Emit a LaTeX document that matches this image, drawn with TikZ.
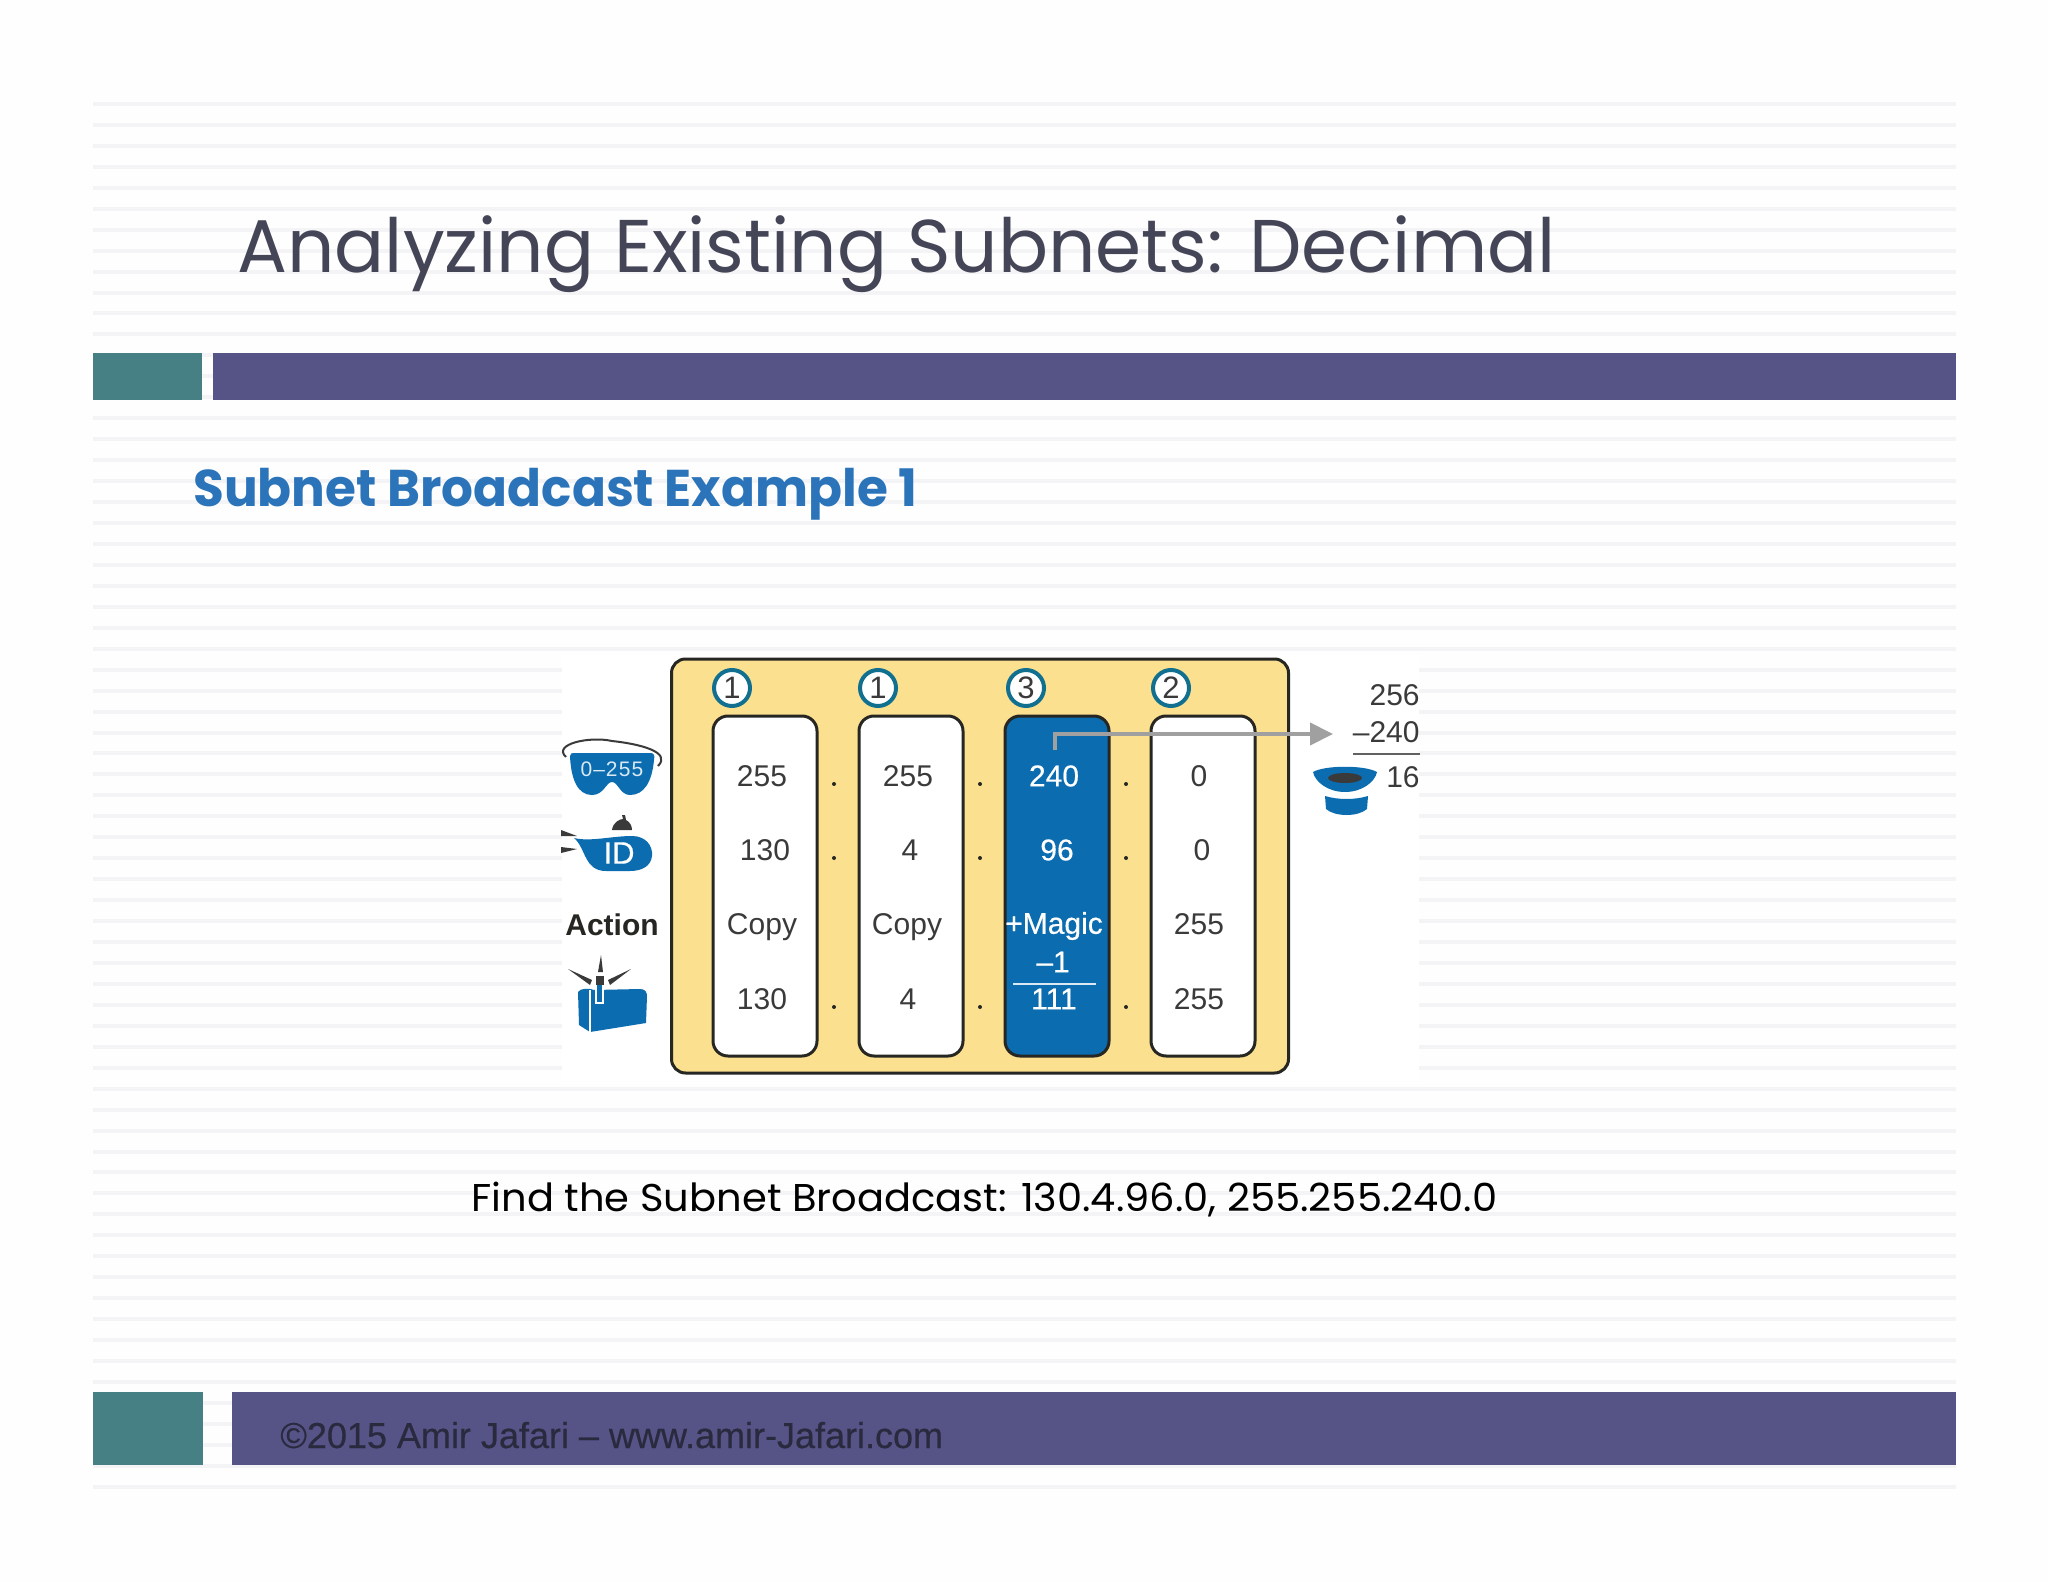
\documentclass[tikz,border=0pt]{standalone}
\usepackage{fontspec}
\usepackage{graphicx}
\usetikzlibrary{arrows.meta}
\setmainfont{Liberation Sans}
\newfontfamily\headfont{Poppins}
\newfontfamily\semifont[FakeBold=0.5]{Liberation Sans}
\definecolor{pagebg}{HTML}{FEFEFE}
\definecolor{stripe}{HTML}{F4F4F6}
\definecolor{teal}{HTML}{468085}
\definecolor{barpurple}{HTML}{565387}
\definecolor{titleink}{HTML}{454558}
\definecolor{subblue}{HTML}{2C74BA}
\definecolor{panelyellow}{HTML}{FBE08F}
\definecolor{iconblue}{HTML}{0B6CB0}
\definecolor{ink}{HTML}{3A3A3A}
\definecolor{edge}{HTML}{262622}
\definecolor{ringblue}{HTML}{11708F}
\definecolor{arrowgray}{HTML}{A0A0A0}
\definecolor{footink}{HTML}{2A2A3E}
\newcommand{\fitbox}[3]{\resizebox*{#1pt}{#2pt}{#3}}
\tikzset{
  x=0.5pt,y=-0.5pt,
  bar/.style={fill=#1,draw=none},
  panel/.style={draw=edge,fill=panelyellow,line width=1.5pt,rounded corners=7pt,minimum width=308.5pt,minimum height=207pt,inner sep=0pt},
  colbox/.style={draw=edge,fill=white,line width=1.5pt,rounded corners=7.5pt,minimum width=52pt,minimum height=170pt,inner sep=0pt},
  colblue/.style={colbox,fill=iconblue},
  cell/.style={inner sep=0pt,text=ink,font=\fontsize{15}{18}\selectfont},
  wcell/.style={inner sep=0pt,text=white,font=\semifont\fontsize{15}{18}\selectfont},
  sepdot/.style={circle,fill=edge,draw=none,minimum size=2pt,inner sep=0pt},
  ring/.style={circle,draw=ringblue,fill=white,line width=2pt,minimum size=18pt,inner sep=0pt,text=ink,font=\fontsize{15.5}{18}\selectfont},
  grayarrow/.style={draw=arrowgray,line width=2pt,-{Triangle[length=11.5pt,width=11pt]}},
  rulew/.style={draw=white!85!iconblue,line width=0.7pt},
  iconfill/.style={fill=iconblue,draw=none},
  spark/.style={draw=ink,line width=0.9pt,line cap=round},
}
\begin{document}
\begin{tikzpicture}
\useasboundingbox (0,0) rectangle (2048,1582);
\fill[pagebg] (0,0) rectangle (2048,1582);
% background stripes
\foreach \k in {0,...,66} {
  \fill[stripe] (93,{102+20.95*\k}) rectangle (1956,{106+20.95*\k});
}
% bars
\fill[bar=teal] (93,353) rectangle (202,400);
\fill[bar=barpurple] (213,353) rectangle (1956,400);
\fill[bar=teal] (93,1392) rectangle (203,1465);
\fill[bar=barpurple] (232,1392) rectangle (1956,1465);
% titles
\node[anchor=base west,inner sep=0pt,text=titleink] (title) at (237,273)
  {\fitbox{659}{38.5}{\headfont Analyzing Existing Subnets: Decimal}};
\node[anchor=base west,inner sep=0pt,text=subblue] (subtitle) at (193,507)
  {\fitbox{362}{26}{\headfont\bfseries Subnet Broadcast Example 1}};
\node[anchor=base west,inner sep=0pt,text=black] (findtext) at (471,1211)
  {\fitbox{513}{17.5}{\headfont Find the Subnet Broadcast: 130.4.96.0, 255.255.240.0}};
\node[anchor=base west,inner sep=0pt,text=footink,font=\semifont\fontsize{18}{22}\selectfont] (footer) at (280,1448)
  {©2015 Amir Jafari – www.amir-Jafari.com};
% image white area
\fill[white] (562,655) rectangle (1419,1081);
% panel and columns
\node[panel] (board) at (980,866) {};
\node[colbox] (col1) at (765,886) {};
\node[colbox] (col2) at (911,886) {};
\node[colblue] (col3) at (1057,886) {};
\node[colbox] (col4) at (1203,886) {};
% rings
\node[ring] (r1) at (732,688) {1};
\node[ring] (r2) at (878,688) {1};
\node[ring] (r3) at (1026,688) {3};
\node[ring] (r4) at (1171,688) {2};
% column 1
\node[cell] (a1) at (762,776) {255};
\node[cell] (a2) at (765,850) {130};
\node[cell] (a3) at (762,927) {Copy};
\node[cell] (a4) at (762,999) {130};
% column 2
\node[cell] (b1) at (908,776) {255};
\node[cell] (b2) at (910,850) {4};
\node[cell] (b3) at (907,927) {Copy};
\node[cell] (b4) at (908,999) {4};
% column 3
\node[wcell] (c1) at (1054,776) {240};
\node[wcell] (c2) at (1057,850) {96};
\node[wcell] (c3) at (1054,926) {+Magic};
\node[wcell] (c3b) at (1053,962) {–1};
\node[wcell] (c4) at (1054,999) {111};
\draw[rulew] (1013,984) -- (1096,984);
% column 4
\node[cell] (d1) at (1199,776) {0};
\node[cell] (d2) at (1202,850) {0};
\node[cell] (d3) at (1199,924) {255};
\node[cell] (d4) at (1199,999) {255};
% dots
\foreach \x/\n in {834/p,980/q,1126/s} {
  \node[sepdot] (\n1) at (\x,784) {};
  \node[sepdot] (\n2) at (\x,858) {};
  \node[sepdot] (\n3) at (\x,1007) {};
}
% arrow and subtraction
\coordinate (arrowstart) at (1055,750);
\coordinate (arrowend) at (1333,734);
\draw[grayarrow] (arrowstart) |- (arrowend);
\node[cell,anchor=east] (s1) at (1420,695) {256};
\node[cell,anchor=east] (s2) at (1420,732) {–240};
\draw[draw=ink!80,line width=1pt] (1353,754) -- (1420,754);
\node[cell,anchor=east] (s3) at (1420,777) {16};
% hat icon
\fill[iconfill] (1313,772) .. controls (1325,765) and (1365,765) .. (1377,772)
  .. controls (1375,782) and (1362,792) .. (1345,792) .. controls (1328,792) and (1315,782) .. (1313,772) -- cycle;
\fill[ink] (1345,778) ellipse (17 and 5);
\fill[iconfill] (1325,796) .. controls (1338,800) and (1355,800) .. (1368,796)
  -- (1367,809) .. controls (1358,817) and (1335,817) .. (1326,809) -- cycle;
% action label
\node[cell,text=edge,font=\fontsize{15}{18}\selectfont\bfseries] (action) at (612,925) {Action};
% goggles icon
\draw[ink,line width=1pt] (658,766) .. controls (672,752) and (640,744) .. (612,741)
  .. controls (590,736) and (552,744) .. (566,757);
\fill[iconfill] (570,756) .. controls (570,753) and (572,753) .. (575,753) -- (650,753)
  .. controls (654,753) and (655,755) .. (654,760) .. controls (652,782) and (644,795) .. (630,795)
  .. controls (620,795) and (618,782) .. (612,782) .. controls (606,782) and (604,795) .. (592,795)
  .. controls (578,795) and (571,780) .. (570,756) -- cycle;
\node[inner sep=0pt,text=white!85!iconblue,font=\fontsize{10.5}{12}\selectfont] (rangelabel) at (612,769) {0\kern0.5pt–\kern0.5pt2\kern0.6pt5\kern0.6pt5};
% submarine icon
\fill[iconfill] (574,838) .. controls (590,842) and (612,836) .. (632,836)
  .. controls (646,836) and (653,846) .. (652,856) .. controls (651,866) and (642,871) .. (630,871)
  -- (606,871) .. controls (584,871) and (586,848) .. (574,838) -- cycle;
\fill[ink] (561,830) -- (577,836) -- (561,836) -- cycle;
\fill[ink] (561,847) -- (577,849) -- (561,853) -- cycle;
\fill[ink] (612,830) .. controls (613,822) and (620,819) .. (623,819) -- (622,815) -- (625,815) -- (626,820)
  .. controls (630,822) and (632,826) .. (632,830) -- cycle;
\node[inner sep=0pt,text=white,font=\semifont\fontsize{15.5}{18}\selectfont] (idlabel) at (619,853) {ID};
% mailbox icon
\fill[iconfill] (578,992) .. controls (580,988) and (590,988) .. (594,990) -- (640,989)
  .. controls (645,989) and (647,992) .. (647,996) -- (646,1023) -- (590,1032) -- (579,1025) -- cycle;
\fill[white] (595,982) rectangle (604,1004);
\fill[iconfill] (597,982) rectangle (602,1002);
\draw[white,line width=0.8pt] (590,990) -- (590,1032);
\fill[ink] (596,976) rectangle (604,985);
\fill[ink] (598,972) -- (601,955) -- (603,972) -- cycle;
\fill[ink] (592,980) -- (568,969) -- (590,985) -- cycle;
\fill[ink] (608,980) -- (631,969) -- (610,985) -- cycle;
\end{tikzpicture}
\end{document}
